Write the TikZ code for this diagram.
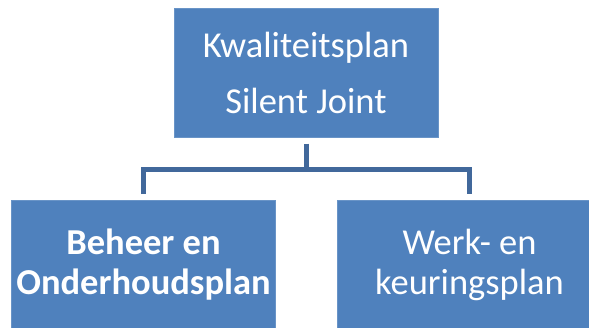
\documentclass[tikz,border=0pt]{standalone}
\usepackage{fontspec}
\setmainfont{Carlito}
\usepackage{tikz}
\definecolor{boxblue}{HTML}{4F81BD}
\definecolor{lineblue}{HTML}{41689B}

\begin{document}
\begin{tikzpicture}[x=1pt,y=-1pt,every node/.style={outer sep=0pt,inner sep=0pt,text=white,align=center}]
      \tikzstyle{box}=[fill=boxblue,draw=boxblue!85!white,line width=0.6pt,minimum width=264pt,minimum height=129pt]
      \tikzstyle{link}=[draw=lineblue,line width=5pt,line join=miter]
      \clip (0,0) rectangle (589,327);

      \node (plan) at (306,73) [box,font=\fontsize{36.5}{56.7}\selectfont] {Kwaliteitsplan\\Silent Joint};

      \node (beheer) at (plan.south) [box,anchor=north,xshift=-162.5pt,yshift=-62.5pt,font=\fontsize{36.5}{40}\selectfont\bfseries] {Beheer en\\Onderhoudsplan};
      \node (werk) at (plan.south) [box,anchor=north,xshift=163.5pt,yshift=-62.5pt,font=\fontsize{36.5}{40}\selectfont] {Werk- en\\keuringsplan};

      \coordinate (bar) at (306,169);
      \draw [link] ([yshift=-6pt]plan.south) -- (bar);
      \draw [link] ([yshift=6pt]beheer.north) |- (bar) -| ([yshift=6pt]werk.north);
    \end{tikzpicture}
\end{document}
